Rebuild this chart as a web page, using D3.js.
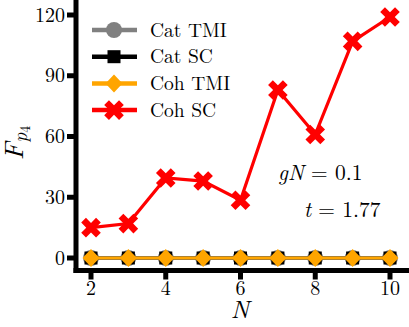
<!DOCTYPE html>
<html>
<head>
<meta charset="utf-8">
<script src="https://cdn.jsdelivr.net/npm/d3@7"></script>
<style>
  html, body { margin: 0; padding: 0; background: #fff; }
</style>
</head>
<body>
<svg id="chart" width="409" height="327"></svg>
<script>
const N = [2, 3, 4, 5, 6, 7, 8, 9, 10];
const catTMI = [0, 0, 0, 0, 0, 0, 0, 0, 0];
const catSC = [0, 0, 0, 0, 0, 0, 0, 0, 0];
const cohTMI = [0, 0, 0, 0, 0, 0, 0, 0, 0];
const cohSC = [15, 17, 39.5, 38, 28.5, 83, 61, 107, 119];
const xTicks = [2, 4, 6, 8, 10];
const yTicks = [0, 30, 60, 90, 120];

const series = [
  { name: 'Cat TMI', values: catTMI, color: '#808080', marker: 'circle' },
  { name: 'Cat SC', values: catSC, color: '#000000', marker: 'square' },
  { name: 'Coh TMI', values: cohTMI, color: '#FFA500', marker: 'diamond' },
  { name: 'Coh SC', values: cohSC, color: '#FF0000', marker: 'x' }
];

const FONT = '"Latin Modern Roman"';
const svg = d3.select('#chart');
const x = d3.scaleLinear().domain([2, 10]).range([91, 390]);
const y = d3.scaleLinear().domain([0, 120]).range([258, 15]);
const spineX = 76, spineY = 270.5;

// thick filled X, like matplotlib's 'X'
function xPath(s) {
  const L = s, a = s * 0.32;
  const pts = [[a, a], [a, L], [-a, L], [-a, a], [-L, a], [-L, -a], [-a, -a], [-a, -L], [a, -L], [a, -a], [L, -a], [L, a]];
  const r = Math.PI / 4;
  return 'M' + pts.map(([px, py]) => [px * Math.cos(r) - py * Math.sin(r), px * Math.sin(r) + py * Math.cos(r)].map(v => v.toFixed(2)).join(',')).join('L') + 'Z';
}

function drawMarker(sel, type, color) {
  if (type === 'circle') sel.append('circle').attr('r', 8).attr('fill', color);
  else if (type === 'square') sel.append('rect').attr('x', -6.5).attr('y', -6.5).attr('width', 13).attr('height', 13).attr('fill', color);
  else if (type === 'diamond') sel.append('path').attr('d', 'M0,-9L8.5,0L0,9L-8.5,0Z').attr('fill', color);
  else sel.append('path').attr('d', xPath(10.5)).attr('fill', color);
}

// data
const line = d3.line().x((d, i) => x(N[i])).y(d => y(d));
series.forEach(s => {
  const g = svg.append('g');
  g.append('path').datum(s.values).attr('d', line)
    .attr('fill', 'none').attr('stroke', s.color).attr('stroke-width', 3.2);
  g.selectAll('g.m').data(s.values).enter().append('g').attr('class', 'm')
    .attr('transform', (d, i) => `translate(${x(N[i])},${y(d)})`)
    .each(function() { drawMarker(d3.select(this), s.marker, s.color); });
});

// spines
svg.append('line').attr('x1', spineX).attr('x2', spineX).attr('y1', 0).attr('y2', spineY + 2.5)
  .attr('stroke', '#000').attr('stroke-width', 5);
svg.append('line').attr('x1', spineX - 2.5).attr('x2', 409).attr('y1', spineY).attr('y2', spineY)
  .attr('stroke', '#000').attr('stroke-width', 5);

// ticks
const xAxis = svg.append('g');
xTicks.forEach(t => {
  xAxis.append('line').attr('x1', x(t)).attr('x2', x(t)).attr('y1', spineY).attr('y2', spineY + 9)
    .attr('stroke', '#000').attr('stroke-width', 5);
  xAxis.append('text').attr('x', x(t)).attr('y', 295).attr('text-anchor', 'middle')
    .style('font-family', FONT).attr('font-size', 20).text(t);
});
const yAxis = svg.append('g');
yTicks.forEach(t => {
  yAxis.append('line').attr('x1', spineX - 9).attr('x2', spineX).attr('y1', y(t)).attr('y2', y(t))
    .attr('stroke', '#000').attr('stroke-width', 5);
  yAxis.append('text').attr('x', 65).attr('y', y(t) + 6.5).attr('text-anchor', 'end')
    .style('font-family', FONT).attr('font-size', 20).text(t);
});

// axis labels
svg.append('text').attr('x', 240).attr('y', 318).attr('text-anchor', 'middle')
  .style('font-family', FONT).attr('font-size', 25).attr('font-style', 'italic').text('N');
const yl = svg.append('text').attr('transform', 'translate(23,143) rotate(-90)')
  .style('font-family', FONT).attr('text-anchor', 'middle').attr('font-style', 'italic');
yl.append('tspan').attr('font-size', 27).text('F');
yl.append('tspan').attr('font-size', 19).attr('dy', 4).text('p');
yl.append('tspan').attr('font-size', 14).attr('font-style', 'normal').attr('dy', 3).text('4');

// annotations
const a1 = svg.append('text').attr('x', 278).attr('y', 180).style('font-family', FONT).attr('font-size', 21.5);
a1.append('tspan').attr('font-style', 'italic').text('gN');
a1.append('tspan').text(' = 0.1');
const a2 = svg.append('text').attr('x', 304).attr('y', 217).style('font-family', FONT).attr('font-size', 21.5);
a2.append('tspan').attr('font-style', 'italic').text('t');
a2.append('tspan').text(' = 1.77');

// legend
const legend = svg.append('g');
series.forEach((s, i) => {
  const row = legend.append('g').attr('transform', `translate(0,${30 + i * 26.7})`);
  row.append('line').attr('x1', 92).attr('x2', 137).attr('stroke', s.color).attr('stroke-width', 4.5);
  const m = row.append('g').attr('transform', 'translate(114,0)');
  drawMarker(m, s.marker, s.color);
  row.append('text').attr('x', 150).attr('y', 6.5).style('font-family', FONT).attr('font-size', 19.5).text(s.name);
});
</script>
</body>
</html>
